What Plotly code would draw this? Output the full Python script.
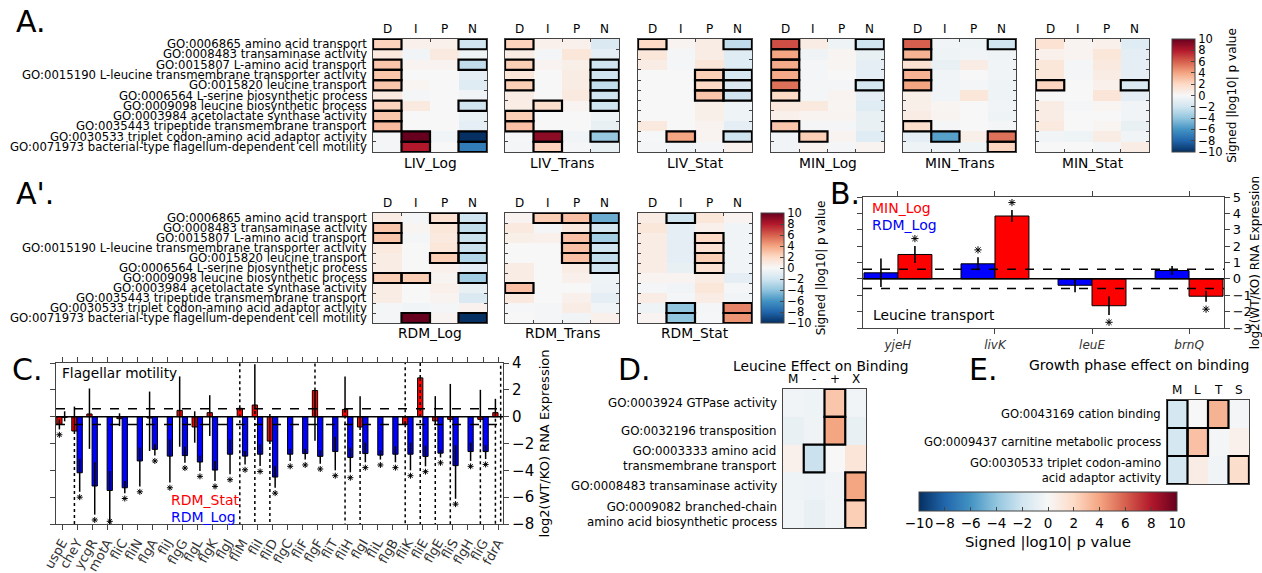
import math
import plotly.graph_objects as go

W, H = 1262, 573
FONT = "DejaVu Sans"

# ---------------------------------------------------------------- data
GO_TERMS = [
    "GO:0006865 amino acid transport",
    "GO:0008483 transaminase activity",
    "GO:0015807 L-amino acid transport",
    "GO:0015190 L-leucine transmembrane transporter activity",
    "GO:0015820 leucine transport",
    "GO:0006564 L-serine biosynthetic process",
    "GO:0009098 leucine biosynthetic process",
    "GO:0003984 acetolactate synthase activity",
    "GO:0035443 tripeptide transmembrane transport",
    "GO:0030533 triplet codon-amino acid adaptor activity",
    "GO:0071973 bacterial-type flagellum-dependent cell motility",
]
BIND_COLS = ["D", "I", "P", "N"]

# signed |log10 p| : rows = GO terms, columns = D, I, P, N
LIV_LOG = [[2.3, 0.5, 0.5, -2.0], [1.0, -0.3, 1.0, -0.5], [2.8, 0.3, 0.3, -2.5],
           [2.8, 0.0, 0.0, -1.0], [2.8, 0.2, 0.0, -1.2], [1.0, -0.2, 0.0, -0.3],
           [2.3, 1.0, 0.0, -2.0], [2.8, 0.0, 0.0, -0.7], [3.2, 0.0, 0.0, -1.0],
           [-0.2, 10.0, -0.3, -10.0], [-0.2, 8.0, 0.0, -7.0]]
LIV_LOG_SIG = ["1001", "0000", "1001", "1000", "1000", "0000", "1001", "1000", "1000", "0101", "0101"]

LIV_TRANS = [[2.3, 0.5, 0.5, -1.5], [0.8, -0.2, 1.2, -1.0], [2.5, 0.3, 0.6, -2.0],
             [1.2, 0.0, 0.8, -2.0], [2.5, 0.0, 0.8, -2.5], [0.8, 0.0, 1.0, -2.0],
             [0.7, 1.8, 0.3, -2.0], [2.5, 0.0, 0.0, -0.5], [3.0, 0.0, 0.0, -0.8],
             [-0.1, 9.0, -0.3, -3.8], [-0.2, 2.3, -0.2, -0.8]]
LIV_TRANS_SIG = ["1000", "0000", "1001", "0001", "1001", "0001", "0101", "1000", "1000", "0101", "0100"]

LIV_STAT = [[2.0, 0.3, 0.8, -2.5], [1.2, -0.2, 0.8, -1.2], [0.8, -0.2, 1.2, -1.2],
            [0.0, 0.0, 2.5, -1.8], [0.0, 0.0, 2.0, -1.5], [0.0, 0.0, 2.8, -2.0],
            [0.0, 0.0, 0.6, -0.5], [0.0, 0.0, 0.6, -0.5], [1.0, 0.0, 0.3, -1.0],
            [-0.1, 4.0, 0.3, -2.0], [-0.2, -0.3, -0.2, 0.4]]
LIV_STAT_SIG = ["1001", "0000", "0000", "0011", "0011", "0011", "0000", "0000", "0000", "0101", "0000"]

MIN_LOG = [[6.5, 0.8, -0.5, -2.0], [4.0, -0.4, 0.2, -0.8], [3.8, -0.2, 0.2, -1.0],
           [3.8, -0.2, 0.0, -1.0], [5.5, -0.2, -0.2, -1.8], [2.0, -0.2, 0.3, -1.0],
           [1.0, 1.0, 0.2, -1.2], [0.5, 0.3, 0.3, -0.8], [2.8, -0.2, -0.2, -0.8],
           [-0.3, 2.5, 0.3, -1.2], [-0.3, 0.3, -0.2, 0.3]]
MIN_LOG_SIG = ["1001", "1000", "1000", "1000", "1001", "1000", "0000", "0000", "1000", "0100", "0000"]

MIN_TRANS = [[6.0, -0.3, -0.5, -2.0], [3.5, -0.5, -0.3, -0.5], [1.5, -0.8, 0.8, -0.3],
             [3.5, -0.3, 0.0, -0.3], [4.0, -0.3, -0.2, -0.5], [0.6, -0.3, 1.2, -0.5],
             [0.6, 0.2, 0.0, -0.3], [0.8, 0.3, 0.0, -0.5], [1.8, -0.2, 0.0, -0.2],
             [-1.0, -5.5, 0.6, 5.5], [-0.5, -0.5, -0.5, 2.2]]
MIN_TRANS_SIG = ["1001", "1000", "0000", "1000", "1000", "0000", "0000", "0000", "1000", "0101", "0001"]

MIN_STAT = [[1.5, 0.3, 0.5, -1.2], [0.5, 0.3, 1.2, -1.0], [1.2, -0.2, 1.0, -1.0],
            [1.2, -0.2, 0.8, -1.0], [2.2, 0.0, 0.5, -1.5], [0.0, 0.0, 1.3, -1.0],
            [0.8, -0.2, 0.2, -0.3], [0.8, 0.0, 0.0, -0.3], [1.0, 0.0, 0.2, -0.8],
            [-0.3, -0.5, 0.8, -0.3], [0.0, 0.0, -0.2, 0.8]]
MIN_STAT_SIG = ["0000", "0000", "0000", "0000", "1001", "0000", "0000", "0000", "0000", "0000", "0000"]

RDM_LOG = [[0.8, -0.2, 1.5, -2.0], [2.8, 0.2, 1.2, -2.5], [2.8, -0.2, 1.0, -2.2],
           [1.0, 0.0, 1.2, -2.2], [0.8, 0.0, 2.5, -3.0], [0.8, 0.0, 0.5, -1.0],
           [2.5, 2.5, 0.2, -3.5], [0.8, 0.0, 0.5, -0.8], [0.8, 0.0, 0.3, -1.5],
           [-0.2, -0.3, -0.2, 0.4], [-0.2, 10.0, 0.3, -10.0]]
RDM_LOG_SIG = ["0011", "1001", "1001", "0001", "0011", "0000", "1101", "0000", "0000", "0000", "0101"]

RDM_TRANS = [[0.3, 2.5, 3.0, -5.0], [1.0, -0.2, 1.0, -1.8], [0.6, 0.5, 3.0, -3.5],
             [0.0, 0.0, 3.0, -2.0], [0.0, 0.0, 3.0, -2.5], [0.8, 0.0, 0.8, -2.0],
             [0.8, 0.0, 0.5, -0.5], [3.0, 0.0, 0.0, -0.6], [1.0, 0.0, 0.5, -1.0],
             [-0.1, -0.2, 0.8, -0.3], [0.0, -0.2, -0.3, 0.5]]
RDM_TRANS_SIG = ["0111", "0001", "0011", "0011", "0011", "0001", "0000", "1000", "0000", "0000", "0000"]

RDM_STAT = [[0.8, -2.0, 1.2, 0.3], [1.2, -1.0, 0.5, -0.3], [0.8, -1.0, 2.0, -0.3],
            [0.8, -1.0, 1.5, -0.3], [0.8, -1.0, 2.5, -0.3], [0.8, -0.8, 1.5, -0.3],
            [0.3, 0.3, 0.8, -1.0], [-0.2, -0.3, 1.2, -0.2], [0.8, -0.2, 0.8, -0.3],
            [-0.5, -4.0, -0.2, 5.0], [0.3, -4.0, -0.1, 4.5]]
RDM_STAT_SIG = ["0100", "0000", "0010", "0010", "0010", "0010", "0000", "0000", "0000", "0101", "0101"]

# leucine effect on binding
LEU_TERMS = ["GO:0003924 GTPase activity", "GO:0032196 transposition",
             "GO:0003333 amino acid<br>transmembrane transport",
             "GO:0008483 transaminase activity",
             "GO:0009082 branched-chain<br>amino acid biosynthetic process"]
LEU_COLS = ["M", "-", "+", "X"]
LEU_EFFECT = [[-0.3, -0.5, 2.8, -0.3], [-0.8, -0.4, 4.0, -0.8], [0.5, -2.2, 0.0, 1.3],
              [-0.5, -0.6, -0.3, 4.0], [-0.3, -0.8, -0.3, 2.5]]
LEU_SIG = ["0010", "0010", "0100", "0001", "0001"]

# growth phase effect on binding
PHASE_TERMS = ["GO:0043169 cation binding", "GO:0009437 carnitine metabolic process",
               "GO:0030533 triplet codon-amino<br>acid adaptor activity"]
PHASE_COLS = ["M", "L", "T", "S"]
PHASE_EFFECT = [[-1.8, 0.0, 3.5, -0.2], [-1.8, 3.0, -0.2, 0.5], [-1.8, 0.8, -0.3, 1.8]]
PHASE_SIG = ["1010", "1100", "1001"]

# leucine transport genes, log2(WT/KO)
LEU_GENES = ["yjeH", "livK", "leuE", "brnQ"]
LEU_RDM_LOG = [0.37, 0.92, -0.39, 0.51]
LEU_RDM_LOG_ERR = [0.87, 0.40, 0.42, 0.28]
LEU_RDM_LOG_STAR = [0, 1, 0, 0]
LEU_MIN_LOG = [1.49, 3.84, -1.64, -1.06]
LEU_MIN_LOG_ERR = [0.52, 0.37, 0.56, 0.34]
LEU_MIN_LOG_STAR = [1, 1, 1, 1]

# flagellar genes, log2(WT/KO); error bars given as (low end, high end), inf = unbounded
INF = math.inf
FLAG_GENES = ["uspE", "cheY", "ycgR", "motA", "fliC", "fliN", "flgA", "fliJ", "flgG", "flgL",
              "flgK", "flgJ", "fliM", "fliI", "fliD", "flgC", "fliF", "flgF", "fliT", "fliH",
              "flgI", "fliL", "flgB", "fliK", "fliE", "flgE", "fliS", "flgH", "fliG", "fdrA"]
RDM_STAT_EXPR = [-0.57, -1.07, 0.2, None, -0.15, None, -0.1, None, 0.47, -0.77,
                 0.3, None, 0.62, 0.87, -1.82, None, None, 1.95, None, 0.54,
                 -0.77, None, None, -0.57, 2.89, -0.32, -0.2, None, -0.2, 0.3]
RDM_STAT_LO = [-0.95, -INF, -2.4, None, -0.7, None, -2.56, None, -2.24, -1.94,
               -1.44, None, -INF, -INF, -INF, None, None, -1.8, None, -INF,
               -INF, None, None, -INF, -INF, -INF, -INF, None, -INF, -INF]
RDM_STAT_HI = [-0.2, 0.75, 2.1, None, 0.25, None, 1.87, None, 3.0, 0.4,
               1.6, None, INF, 3.9, 0.2, None, None, INF, None, 3.0,
               1.53, None, None, INF, INF, 1.53, 2.44, None, 2.0, 1.33]
RDM_STAT_STAR = [1] + [0] * 29

RDM_LOG_EXPR = [-0.05, -4.18, -5.17, -5.5, -5.3, -3.3, -2.44, -2.94, -2.9, -3.38,
                -3.98, -2.8, -2.94, -2.8, -4.5, -2.8, -2.75, -2.96, -2.6, -3.04,
                -2.75, -2.87, -2.8, -2.8, -2.96, -2.72, -3.65, -2.6, -2.6, None]
RDM_LOG_LO = [-0.35, -5.6, -7.3, -8.5, -5.7, -5.2, -2.9, -4.9, -3.43, -4.05,
              -4.8, -4.3, -3.56, -3.68, -5.3, -3.3, -3.2, -3.5, -4.0, -4.15,
              -3.4, -3.2, -3.4, -4.0, -3.7, -3.04, -6.12, -3.3, -3.16, -INF]
RDM_LOG_HI = [0.4, -3.15, -3.4, -4.05, -4.8, -2.3, -2.06, -1.7, -2.24, -2.9,
              -3.3, -1.7, -2.56, -2.06, -3.7, -2.4, -2.4, -2.5, -1.5, -2.3,
              -1.93, -2.5, -2.2, -1.93, -2.17, -2.47, -2.12, -1.93, -2.12, INF]
RDM_LOG_STAR = [0] + [1] * 28 + [0]

FOLD_LINE = math.log2(1.5)

# ---------------------------------------------------------------- helpers
RDBU_R = [[0.0, "#053061"], [0.1, "#2166ac"], [0.2, "#4393c3"], [0.3, "#92c5de"],
          [0.4, "#d1e5f0"], [0.5, "#f7f7f7"], [0.6, "#fddbc7"], [0.7, "#f4a582"],
          [0.8, "#d6604d"], [0.9, "#b2182b"], [1.0, "#67001f"]]
FRAME = "#444444"

fig = go.Figure()
annotations = []
shapes = []
layout_axes = {}


def xd(a, b):
    return [a / W, b / W]


def yd(top, bot):
    return [1 - bot / H, 1 - top / H]


def refs(n):
    return ("x" if n == 1 else f"x{n}"), ("y" if n == 1 else f"y{n}")


def txt(text, x, y, size, xref="paper", yref="paper", xanchor="center",
        yanchor="middle", color="black", align="center", textangle=0):
    annotations.append(dict(text=text, x=x, y=y, xref=xref, yref=yref, showarrow=False,
                            xanchor=xanchor, yanchor=yanchor, align=align,
                            textangle=textangle,
                            font=dict(family=FONT, size=size, color=color)))


def heat(n, z, sig, cols, px, py, ticks=True, colorbar=None, col_y=None, col_size=12,
         title=None, title_y=None):
    xr, yr = refs(n)
    nr, nc = len(z), len(cols)
    fig.add_trace(go.Heatmap(z=z, x=list(range(nc)), y=list(range(nr)), zmin=-10, zmax=10,
                             colorscale=RDBU_R, showscale=colorbar is not None,
                             colorbar=colorbar, xaxis=xr, yaxis=yr, hoverinfo="skip"))
    tick_style = dict(ticks="inside" if ticks else "", ticklen=3, tickwidth=1,
                      tickcolor=FRAME)
    layout_axes["xaxis" if n == 1 else f"xaxis{n}"] = dict(
        domain=xd(*px), anchor=yr, range=[-0.5, nc - 0.5], showgrid=False,
        zeroline=False, showline=True, linecolor=FRAME, linewidth=1, mirror="allticks",
        tickvals=[j + 0.5 for j in range(nc - 1)], showticklabels=False, **tick_style)
    layout_axes["yaxis" if n == 1 else f"yaxis{n}"] = dict(
        domain=yd(*py), anchor=xr, range=[nr - 0.5, -0.5], showgrid=False,
        zeroline=False, showline=True, linecolor=FRAME, linewidth=1, mirror="allticks",
        tickvals=[i + 0.5 for i in range(nr - 1)], showticklabels=False, **tick_style)
    for i, row in enumerate(sig):
        for j, flag in enumerate(row):
            if flag == "1":
                shapes.append(dict(type="rect", xref=xr, yref=yr, x0=j - 0.5, x1=j + 0.5,
                                   y0=i - 0.5, y1=i + 0.5, layer="above",
                                   line=dict(color="black", width=2.2)))
    for j, c in enumerate(cols):
        txt(c, j, 1 - col_y / H, col_size, xref=xr)
    if title:
        txt(title, 0.5, 1 - title_y / H, 13.8, xref=f"{xr} domain")


def row_labels(n, labels, right_px, size):
    xr, yr = refs(n)
    for i, lab in enumerate(labels):
        txt(lab, right_px / W, i, size, yref=yr, xanchor="right", align="right")


def cbar_v(left, top, bot):
    return dict(x=left / W, xanchor="left", y=1 - bot / H, yanchor="bottom",
                len=(bot - top) / H, lenmode="fraction", thickness=23,
                thicknessmode="pixels", xpad=0, ypad=0, outlinewidth=1,
                outlinecolor=FRAME, tickvals=list(range(-10, 11, 2)), ticks="inside",
                ticklen=4, tickcolor=FRAME,
                tickfont=dict(family=FONT, size=11.5, color="black"),
                title=dict(text="Signed |log10| p value", side="right",
                           font=dict(family=FONT, size=12, color="black")))


# ---------------------------------------------------------------- panel A
A_TOP, A_BOT = 39, 152
A_X = [(373, 487), (505, 619), (638, 752), (771, 884), (903, 1016), (1036, 1149)]
A_SETS = [("LIV_Log", LIV_LOG, LIV_LOG_SIG), ("LIV_Trans", LIV_TRANS, LIV_TRANS_SIG),
          ("LIV_Stat", LIV_STAT, LIV_STAT_SIG), ("MIN_Log", MIN_LOG, MIN_LOG_SIG),
          ("MIN_Trans", MIN_TRANS, MIN_TRANS_SIG), ("MIN_Stat", MIN_STAT, MIN_STAT_SIG)]
for k, (name, z, sig) in enumerate(A_SETS):
    heat(k + 1, z, sig, BIND_COLS, A_X[k], (A_TOP, A_BOT),
         colorbar=cbar_v(1172, A_TOP, A_BOT) if k == 5 else None,
         col_y=29, title=name, title_y=163)
row_labels(1, GO_TERMS, 369, 11.7)

# ---------------------------------------------------------------- panel A'
AP_TOP, AP_BOT = 213, 323
AP_SETS = [("RDM_Log", RDM_LOG, RDM_LOG_SIG), ("RDM_Trans", RDM_TRANS, RDM_TRANS_SIG),
           ("RDM_Stat", RDM_STAT, RDM_STAT_SIG)]
for k, (name, z, sig) in enumerate(AP_SETS):
    heat(k + 7, z, sig, BIND_COLS, A_X[k], (AP_TOP, AP_BOT),
         colorbar=cbar_v(761, AP_TOP, AP_BOT) if k == 2 else None,
         col_y=203, title=name, title_y=333)
row_labels(7, GO_TERMS, 369, 11.7)

# ---------------------------------------------------------------- panel D
heat(12, LEU_EFFECT, LEU_SIG, LEU_COLS, (783, 866), (389, 528), ticks=False,
     col_y=379, col_size=12)
row_labels(12, LEU_TERMS, 779, 11.8)
txt("Leucine Effect on Binding", 821 / W, 1 - 366 / H, 13.8)

# ---------------------------------------------------------------- panel E
heat(13, PHASE_EFFECT, PHASE_SIG, PHASE_COLS, (1167, 1249), (400, 484), ticks=False,
     col_y=390, col_size=12,
     colorbar=dict(orientation="h", x=919 / W, xanchor="left", y=1 - 492 / H,
                   yanchor="top", len=258 / W, lenmode="fraction", thickness=19,
                   thicknessmode="pixels", xpad=0, ypad=0, outlinewidth=1,
                   outlinecolor=FRAME, tickvals=list(range(-10, 11, 2)), ticks="inside",
                   ticklen=4, tickcolor=FRAME, tickangle=0,
                   tickfont=dict(family=FONT, size=13.5, color="black"),
                   title=dict(text="Signed |log10| p value", side="bottom",
                              font=dict(family=FONT, size=14.8, color="black"))))
row_labels(13, PHASE_TERMS, 1163, 11.6)
txt("Growth phase effect on binding", 1139 / W, 1 - 365 / H, 14)


# ---------------------------------------------------------------- bar panels
def star_trace(xs, ys, xr, yr, size):
    return go.Scatter(x=xs, y=ys, mode="markers", xaxis=xr, yaxis=yr,
                      cliponaxis=False, hoverinfo="skip", showlegend=False,
                      marker=dict(symbol="asterisk-open", size=size, color="black",
                                  line=dict(color="black", width=1)))


def bar_axes(n, px, py, xrange_, yrange_, tickvals, ticktext, ytickvals, xfont, yfont,
             tickangle=0):
    xr, yr = refs(n)
    common = dict(showgrid=False, zeroline=False, showline=True, linecolor=FRAME,
                  linewidth=1.2, mirror="allticks", ticks="outside", ticklen=5,
                  tickwidth=1, tickcolor=FRAME)
    layout_axes[f"xaxis{n}"] = dict(domain=xd(*px), anchor=yr, range=xrange_,
                                    tickvals=tickvals, ticktext=ticktext,
                                    tickangle=tickangle, tickfont=xfont, **common)
    layout_axes[f"yaxis{n}"] = dict(domain=yd(*py), anchor=xr, range=yrange_, side="right",
                                    tickvals=ytickvals, tickfont=yfont, **common)
    shapes.append(dict(type="line", xref=f"{xr} domain", yref=yr, x0=0, x1=1, y0=0, y1=0,
                       layer="above", line=dict(color="black", width=1.5)))
    for lvl in (FOLD_LINE, -FOLD_LINE):
        shapes.append(dict(type="line", xref=f"{xr} domain", yref=yr, x0=0, x1=1,
                           y0=lvl, y1=lvl, layer="above",
                           line=dict(color="black", width=1.5, dash="dash")))


# panel B : leucine transport genes
xr, yr = refs(10)
bx = list(range(len(LEU_GENES)))
for vals, errs, color, off in ((LEU_RDM_LOG, LEU_RDM_LOG_ERR, "#0000ff", -0.35),
                               (LEU_MIN_LOG, LEU_MIN_LOG_ERR, "#ff0000", 0.0)):
    fig.add_trace(go.Bar(x=bx, y=vals, width=0.35, offset=off, xaxis=xr, yaxis=yr,
                         marker=dict(color=color, line=dict(color="black", width=1)),
                         error_y=dict(type="data", array=errs, color="black",
                                      thickness=1.6, width=0),
                         showlegend=False, hoverinfo="skip"))
for vals, errs, stars, off in ((LEU_RDM_LOG, LEU_RDM_LOG_ERR, LEU_RDM_LOG_STAR, -0.175),
                               (LEU_MIN_LOG, LEU_MIN_LOG_ERR, LEU_MIN_LOG_STAR, 0.175)):
    sx, sy = [], []
    for i, (v, e, s) in enumerate(zip(vals, errs, stars)):
        if s:
            sx.append(i + off)
            sy.append(v + e + 0.45 if v > 0 else v - e - 0.45)
    fig.add_trace(star_trace(sx, sy, xr, yr, 6))
bar_axes(10, (863, 1224), (197, 328), [-0.36, 3.36], [-3, 5], bx,
         [f"<i>{g}</i>" for g in LEU_GENES], list(range(-3, 6)),
         dict(family=FONT, size=12, color="#333"), dict(family=FONT, size=13, color="black"))
layout_axes["yaxis10"]["title"] = dict(text="log2(WT/KO) RNA Expression", standoff=6,
                                       font=dict(family=FONT, size=12, color="black"))
txt("MIN_Log", 870 / W, 1 - 208 / H, 14, xanchor="left", color="#ff0000")
txt("RDM_Log", 870 / W, 1 - 225 / H, 14, xanchor="left", color="#0000ff")
txt("Leucine transport", 871 / W, 1 - 315 / H, 13.8, xanchor="left")

# panel C : flagellar genes
xr, yr = refs(11)
cx = list(range(len(FLAG_GENES)))
for vals, lo, hi, color, off in ((RDM_STAT_EXPR, RDM_STAT_LO, RDM_STAT_HI, "#ff0000", -0.35),
                                 (RDM_LOG_EXPR, RDM_LOG_LO, RDM_LOG_HI, "#0000ff", 0.0)):
    up = [0 if (v is None or h is None or h == INF) else h - v for v, h in zip(vals, hi)]
    dn = [0 if (v is None or l is None or l == -INF) else v - l for v, l in zip(vals, lo)]
    fig.add_trace(go.Bar(x=cx, y=vals, width=0.35, offset=off, xaxis=xr, yaxis=yr,
                         marker=dict(color=color, line=dict(color="black", width=1)),
                         error_y=dict(type="data", symmetric=False, array=up,
                                      arrayminus=dn, color="black", thickness=1.5,
                                      width=0),
                         showlegend=False, hoverinfo="skip"))
    # unbounded error bars are drawn dotted out to the axis limits
    dx, dy = [], []
    for i, (v, l, h) in enumerate(zip(vals, lo, hi)):
        base = 0.0 if v is None else v
        c = i + off + 0.175
        if l == -INF:
            dx += [c, c, None]
            dy += [base, -50, None]
        if h == INF:
            dx += [c, c, None]
            dy += [base, 50, None]
    fig.add_trace(go.Scatter(x=dx, y=dy, mode="lines", xaxis=xr, yaxis=yr,
                             line=dict(color="black", width=1.5, dash="dot"),
                             showlegend=False, hoverinfo="skip"))
for vals, lo, stars, off in ((RDM_STAT_EXPR, RDM_STAT_LO, RDM_STAT_STAR, -0.175),
                             (RDM_LOG_EXPR, RDM_LOG_LO, RDM_LOG_STAR, 0.175)):
    sx, sy = [], []
    for i, (v, l, s) in enumerate(zip(vals, lo, stars)):
        if s:
            sx.append(i + off)
            sy.append(max(l, -7.4) - 0.4)
    fig.add_trace(star_trace(sx, sy, xr, yr, 5))
bar_axes(11, (56, 503), (363, 524), [-0.4, 29.33], [-8, 4], cx, FLAG_GENES,
         list(range(-8, 5, 2)), dict(family=FONT, size=13, color="#333"),
         dict(family=FONT, size=15, color="black"), tickangle=-60)
layout_axes["yaxis11"]["title"] = dict(text="log2(WT/KO) RNA Expression", standoff=6,
                                       font=dict(family=FONT, size=13, color="black"))
txt("Flagellar motility", 60 / W, 1 - 373 / H, 13.7, xanchor="left")
txt("RDM_Stat", 169 / W, 1 - 500 / H, 14, xanchor="left", color="#ff0000")
txt("RDM_Log", 169 / W, 1 - 517 / H, 14, xanchor="left", color="#0000ff")

# ---------------------------------------------------------------- panel letters
for lab, x, y in (("A.", 14, 22), ("A'.", 14, 193), ("B.", 828, 193),
                  ("C.", 10, 369), ("D.", 616, 369), ("E.", 967, 369)):
    txt(lab, x / W, 1 - y / H, 30, xanchor="left")

fig.update_layout(width=W, height=H, margin=dict(l=0, r=0, t=0, b=0, autoexpand=False),
                  paper_bgcolor="white", plot_bgcolor="white", barmode="overlay",
                  showlegend=False, annotations=annotations, shapes=shapes,
                  font=dict(family=FONT), **layout_axes)
fig.write_html("out.html")
